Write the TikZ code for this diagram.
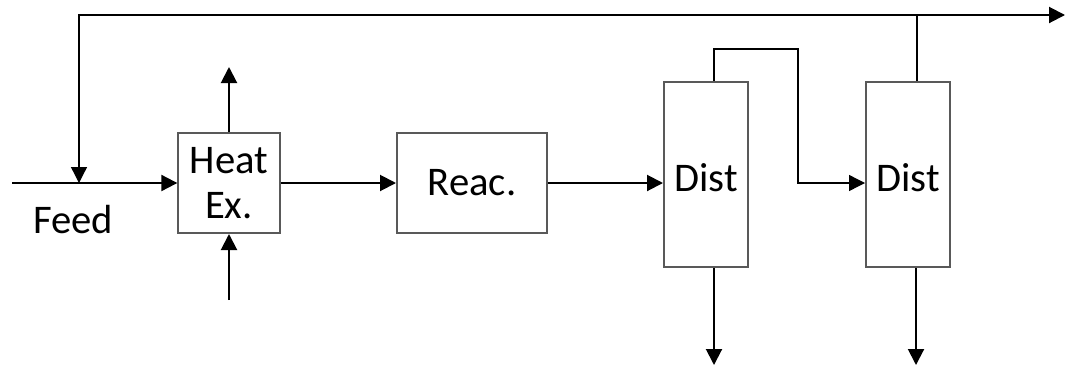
\documentclass[tikz,border=0pt]{standalone}
\usepackage{fontspec}
\setmainfont{Carlito}
\usetikzlibrary{arrows.meta,positioning,calc}

\begin{document}
\begin{tikzpicture}[
  x=0.75pt, y=-0.75pt,
  font=\fontsize{30.5}{34}\selectfont,
  >={Triangle[length=12pt,width=12pt]},
  line width=1.5pt,
  unit/.style={rectangle, draw=black!65, fill=white, line width=1.5pt, align=center, inner sep=0pt},
  thinline/.style={line width=1pt}]

\useasboundingbox (0,0) rectangle (1073,368);

% units
\node[unit, minimum width=76pt, minimum height=75pt] (hx) at (229,183) {Heat\\Ex.};
\node[unit, minimum width=112.5pt, minimum height=75pt] (reac) at (472,183) {Reac.};
\node[unit, minimum width=63pt, minimum height=139pt] (dist1) at (706,174.5) {\raisebox{-2.5pt}[\height][\depth]{Dist}};
\node[unit, minimum width=63pt, minimum height=139pt] (dist2) at (908,174.5) {\raisebox{-2.5pt}[\height][\depth]{Dist}};

\node (feed) at (73,220) {Feed};

% free ends
\coordinate (feedin) at (12,183);
\coordinate (mix) at (79,183);
\coordinate (hxout) at (229,67);
\coordinate (hxin) at (229,300);
\coordinate (split) at (917,15);
\coordinate (prod) at (1065,15);
\coordinate (bot1) at (714,365);
\coordinate (bot2) at (916,365);

% streams
\draw [->] (feedin) -- (hx.west);
\draw [->] (hx.east) -- (reac.west);
\draw [->] (reac.east) -- (reac.east -| dist1.west);
\draw [->] (hx.north) -- (hxout);
\draw [->] (hxin) -- (hx.south);
\draw [->] (dist1.south -| bot1) -- (bot1);
\draw [->] (dist2.south -| bot2) -- (bot2);
\draw [->, thinline] (dist1.north -| bot1) |- (798,49) |- (hx -| dist2.west);
\draw [thinline] (dist2.north -| split) -- (split);
\draw [->] (split) -- (prod);
\draw [->, thinline] (split) -| (mix);

\end{tikzpicture}
\end{document}
